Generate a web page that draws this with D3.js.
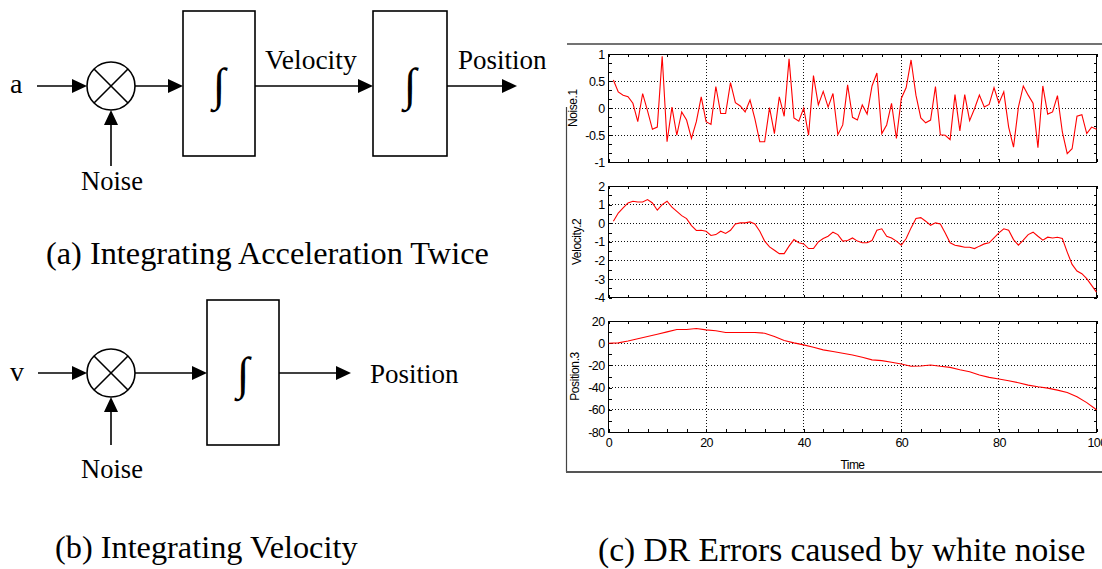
<!DOCTYPE html>
<html><head><meta charset="utf-8">
<script src="https://cdn.jsdelivr.net/npm/d3@7"></script>
<style>body{margin:0;background:#fff}svg{display:block}</style>
</head><body>
<svg id="c" width="1102" height="569"></svg>
<script>
// ---------- data ----------
const time = d3.range(1, 101);
const noise = [0.52,0.30,0.24,0.21,0.09,-0.25,0.27,-0.05,-0.39,-0.35,
  0.96,-0.62,0.02,-0.50,-0.07,-0.22,-0.56,-0.25,0.21,-0.25,
  -0.30,0.40,-0.10,-0.10,0.47,0.10,0.04,-0.07,0.15,-0.20,
  -0.62,-0.62,0.01,-0.47,0.21,-0.15,0.91,-0.18,-0.24,0.00,
  -0.50,0.60,0.06,0.31,0.02,0.27,-0.49,-0.31,0.43,-0.17,
  -0.22,0.06,-0.11,0.41,0.65,-0.47,-0.31,0.09,-0.56,0.18,
  0.38,0.89,0.24,-0.18,-0.27,-0.22,0.40,-0.49,-0.50,-0.58,
  0.25,-0.42,0.25,-0.23,-0.01,0.24,0.02,0.07,0.38,0.09,
  0.30,-0.35,-0.72,0.02,0.41,0.24,0.09,-0.73,0.41,-0.11,
  -0.07,0.23,-0.44,-0.84,-0.75,-0.15,-0.12,-0.47,-0.35,-0.39];
const velocity = [0.11,0.55,0.82,1.09,1.18,1.14,1.14,1.27,1.09,0.70,
  1.00,1.18,0.86,0.64,0.41,0.25,-0.13,-0.39,-0.38,-0.43,
  -0.66,-0.61,-0.43,-0.55,-0.38,-0.04,0.02,0.02,0.07,-0.04,
  -0.43,-0.96,-1.27,-1.45,-1.63,-1.63,-1.23,-0.88,-1.05,-1.11,
  -1.36,-1.36,-1.00,-0.82,-0.70,-0.48,-0.61,-0.96,-0.93,-0.79,
  -0.96,-1.05,-1.05,-0.93,-0.38,-0.30,-0.70,-0.79,-0.96,-1.18,
  -0.82,-0.25,0.25,0.30,0.11,-0.11,0.02,-0.04,-0.52,-1.05,
  -1.18,-1.23,-1.29,-1.29,-1.36,-1.23,-1.11,-1.05,-0.79,-0.52,
  -0.30,-0.38,-0.88,-1.18,-0.91,-0.61,-0.48,-0.70,-0.91,-0.75,
  -0.79,-0.75,-0.82,-1.55,-2.21,-2.57,-2.71,-2.98,-3.34,-3.70];
const posTime = d3.range(0, 101, 2);
const position = [0,0.3,2,4,6,8,10.2,12.4,12.4,13.2,
  12,11.2,9.7,9.7,9.7,9.7,9,6,2.4,0.3,
  -1.5,-3.6,-6,-7.5,-9,-10.6,-12.7,-15,-15.7,-17.2,
  -18.7,-20.8,-20.5,-19.6,-20.8,-21.8,-23.9,-25.7,-28.7,-30.8,
  -32.3,-33.8,-35.6,-37.8,-39.3,-40.5,-42.3,-44.4,-48.3,-53.5,-60];

const timeTicks = [0, 20, 40, 60, 80, 100];
const noiseTicks = [1, 0.5, 0, -0.5, -1];
const velocityTicks = [2, 1, 0, -1, -2, -3, -4];
const positionTicks = [20, 0, -20, -40, -60, -80];
const panelTitles = ["Noise.1", "Velocity.2", "Position.3"];

// ---------- drawing ----------
const svg = d3.select("#c");
const SANS = "'Liberation Sans', Arial, sans-serif";
const SERIF = "'Liberation Serif', 'Times New Roman', serif";

const x = d3.scaleLinear().domain([0, 100]).range([608.5, 1096.5]);

// outer frame of panel (c)
svg.append("line").attr("x1", 567).attr("x2", 1102).attr("y1", 44).attr("y2", 44)
  .attr("stroke", "#444").attr("stroke-width", 1.5);
svg.append("line").attr("x1", 566.5).attr("x2", 566.5).attr("y1", 107).attr("y2", 472)
  .attr("stroke", "#444").attr("stroke-width", 1.2);
svg.append("line").attr("x1", 566).attr("x2", 1102).attr("y1", 472).attr("y2", 472)
  .attr("stroke", "#555").attr("stroke-width", 2);

function panel(cfg) {
  const y = d3.scaleLinear().domain(cfg.domain).range(cfg.range);
  const g = svg.append("g");
  const [x0, x1] = x.range();
  const [yb, yt] = y.range();
  // grid
  cfg.ticks.slice(1, -1).forEach(v => {
    g.append("line").attr("x1", x0).attr("x2", x1).attr("y1", y(v)).attr("y2", y(v))
      .attr("stroke", "#111").attr("stroke-dasharray", "1,2").attr("stroke-width", 1)
      .attr("shape-rendering", "crispEdges");
  });
  timeTicks.slice(1, -1).forEach(v => {
    g.append("line").attr("x1", x(v)).attr("x2", x(v)).attr("y1", yt).attr("y2", yb)
      .attr("stroke", "#111").attr("stroke-dasharray", "1,2").attr("stroke-width", 1)
      .attr("shape-rendering", "crispEdges");
  });
  // minor ticks (inward)
  const xm = d3.range(0, 101, 4);
  const ax = (gen, tr) => g.append("g").attr("transform", tr).call(gen)
    .call(s => s.select(".domain").remove()).call(s => s.selectAll("text").remove())
    .selectAll("line").attr("stroke", "#000").attr("shape-rendering", "crispEdges");
  ax(d3.axisBottom(x).tickValues(xm).tickSize(-3), `translate(0,${yb})`);
  ax(d3.axisTop(x).tickValues(xm).tickSize(-3), `translate(0,${yt})`);
  ax(d3.axisLeft(y).tickValues(cfg.minor).tickSize(-3), `translate(${x0},0)`);
  ax(d3.axisRight(y).tickValues(cfg.minor).tickSize(-3), `translate(${x1},0)`);
  // border
  g.append("rect").attr("x", x0).attr("y", yt).attr("width", x1 - x0).attr("height", yb - yt)
    .attr("fill", "none").attr("stroke", "#000").attr("stroke-width", 1).attr("shape-rendering", "crispEdges");
  // labels
  const la = g.append("g").attr("transform", `translate(${x0},0)`)
    .call(d3.axisLeft(y).tickValues(cfg.ticks).tickSize(0).tickPadding(4).tickFormat(d => String(d)));
  la.select(".domain").remove();
  la.selectAll("text").attr("font-family", SANS).attr("font-size", 12.5).attr("fill", "#000")
    .attr("letter-spacing", "-0.6");
  // title
  g.append("text").attr("transform", `translate(${cfg.titleX},${(yt + yb) / 2}) rotate(-90)`)
    .attr("text-anchor", "middle").attr("font-family", SANS).attr("font-size", 12)
    .attr("letter-spacing", "-0.4").text(cfg.title);
  // line
  const line = d3.line().x(d => x(d[0])).y(d => y(d[1]));
  g.append("path").datum(cfg.xs.map((t, i) => [t, cfg.ys[i]])).attr("d", line)
    .attr("fill", "none").attr("stroke", "#ff0000").attr("stroke-width", 1.1);
  if (cfg.xLabels) {
    const bx = g.append("g").attr("transform", `translate(0,${yb})`)
      .call(d3.axisBottom(x).tickValues(timeTicks).tickSize(0).tickPadding(6).tickFormat(d => String(d)));
    bx.select(".domain").remove();
    bx.selectAll("text").attr("font-family", SANS).attr("font-size", 12.5).attr("fill", "#000")
      .attr("letter-spacing", "-0.6");
    g.append("text").attr("x", (x0 + x1) / 2).attr("y", yb + 37).attr("text-anchor", "middle")
      .attr("font-family", SANS).attr("font-size", 12).attr("letter-spacing", "-0.6").text("Time");
  }
}

panel({domain: [-1, 1], range: [162.3, 54], ticks: noiseTicks, minor: d3.range(-6, 7).map(d => d / 6),
  xs: time, ys: noise, title: panelTitles[0], titleX: 577});
panel({domain: [-4, 2], range: [297.7, 186], ticks: velocityTicks, minor: d3.range(-8, 5).map(d => d / 2),
  xs: time, ys: velocity, title: panelTitles[1], titleX: 581});
panel({domain: [-80, 20], range: [432, 321], ticks: positionTicks, minor: d3.range(-80, 21, 10),
  xs: posTime, ys: position, title: panelTitles[2], titleX: 579, xLabels: true});

// ---------- block diagrams ----------
const dg = svg.append("g").attr("stroke", "#000").attr("stroke-width", 1.6);
function arrow(x1, y1, x2, y2) {
  const L = 15, W = 7;
  const a = Math.atan2(y2 - y1, x2 - x1);
  const bx = x2 - L * Math.cos(a), by = y2 - L * Math.sin(a);
  dg.append("line").attr("x1", x1).attr("y1", y1).attr("x2", bx).attr("y2", by);
  const px = -Math.sin(a) * W, py = Math.cos(a) * W;
  dg.append("path").attr("d", `M${x2},${y2}L${bx + px},${by + py}L${bx - px},${by - py}Z`)
    .attr("fill", "#000").attr("stroke", "none");
}
function mixer(cx, cy, r) {
  dg.append("circle").attr("cx", cx).attr("cy", cy).attr("r", r).attr("fill", "#fff");
  const d = r * Math.SQRT1_2;
  dg.append("line").attr("x1", cx - d).attr("y1", cy - d).attr("x2", cx + d).attr("y2", cy + d);
  dg.append("line").attr("x1", cx - d).attr("y1", cy + d).attr("x2", cx + d).attr("y2", cy - d);
}
function box(x0, y0, w, h) {
  dg.append("rect").attr("x", x0).attr("y", y0).attr("width", w).attr("height", h).attr("fill", "#fff");
  svg.append("text").attr("x", x0 + w / 2).attr("y", y0 + h / 2 + 16).attr("text-anchor", "middle")
    .attr("font-family", SERIF).attr("font-size", 46).text("\u222B");
}
function label(tx, ty, s, size, anchor) {
  svg.append("text").attr("x", tx).attr("y", ty).attr("text-anchor", anchor || "start")
    .attr("font-family", SERIF).attr("font-size", size).attr("fill", "#000").text(s);
}

// (a)
const ya = 86;
label(10, ya + 7, "a", 28);
arrow(37, ya, 87, ya);
mixer(111, ya, 24);
arrow(111, 166, 111, ya + 24);
label(112, 190, "Noise", 26.5, "middle");
arrow(135, ya, 183, ya);
box(183, 11, 72, 145);
arrow(255, ya, 373, ya);
label(265, 69, "Velocity", 27.5);
box(373, 11, 74, 145);
arrow(447, ya, 517, ya);
label(458, 69, "Position", 27);
label(46, 264, "(a) Integrating Acceleration Twice", 32.3);

// (b)
const yb2 = 373;
label(10, yb2 + 8, "v", 28);
arrow(38, yb2, 87, yb2);
mixer(111, yb2, 24);
arrow(111, 445, 111, yb2 + 24);
label(112, 478, "Noise", 26.5, "middle");
arrow(135, yb2, 207, yb2);
box(207, 300, 72, 145);
arrow(279, yb2, 351, yb2);
label(370, 383, "Position", 27);
label(55, 558, "(b) Integrating Velocity", 32.3);

// (c) caption
label(598, 561, "(c) DR Errors caused by white noise", 33.5);
</script>
</body></html>
